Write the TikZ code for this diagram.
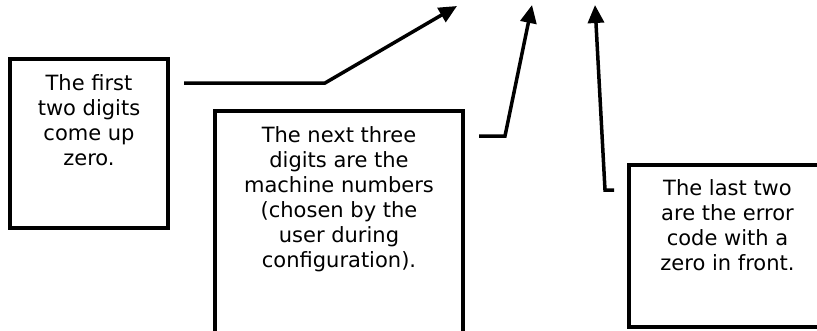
\documentclass[tikz,border=0pt]{standalone}
\usepackage{fontspec}
\setmainfont{DejaVu Sans}
\usetikzlibrary{calc,arrows.meta}
\begin{document}
\begin{tikzpicture}[x=1pt,y=-1pt,
  box/.style={draw=black,line width=4pt,rectangle,inner sep=0pt},
  txt/.style={align=center,inner sep=0pt,font=\fontsize{21}{25}\selectfont,anchor=north},
  arr/.style={line width=3.5pt,-{Triangle[length=18pt,width=16pt]}}]
\clip (0,0) rectangle (817,330);
\fill[white] (0,0) rectangle (817,330);
% boxes
\node[box,minimum width=158pt,minimum height=169pt] (b1) at (89,143.5) {};
\node[box,minimum width=248pt,minimum height=229pt] (b2) at (339,225.5) {};
\node[box,minimum width=197pt,minimum height=162pt] (b3) at (727.5,246) {};
% texts
\node[txt] (t1) at ($(b1.north)+(0,17)$) {The first\\two digits\\come up\\zero.};
\node[txt] (t2) at ($(b2.north)+(0,17)$) {The next three\\digits are the\\machine numbers\\(chosen by the\\user during\\configuration).};
\node[txt] (t3) at ($(b3.north)+(0,16)$) {The last two\\are the error\\code with a\\zero in front.};
% connectors
\coordinate (k1) at (325,83);
\coordinate (p1) at (457,6);
\coordinate (k2) at (505,136);
\coordinate (p2) at (532,5);
\coordinate (k3) at (605,190);
\coordinate (p3) at (595,5);
\draw[arr] ($(b1.east|-k1)+(14,0)$) -- (k1) -- (p1);
\draw[arr] ($(b2.east|-k2)+(14,0)$) -- (k2) -- (p2);
\draw[arr] ($(b3.west|-k3)+(-13,0)$) -- (k3) -- (p3);
\end{tikzpicture}
\end{document}
